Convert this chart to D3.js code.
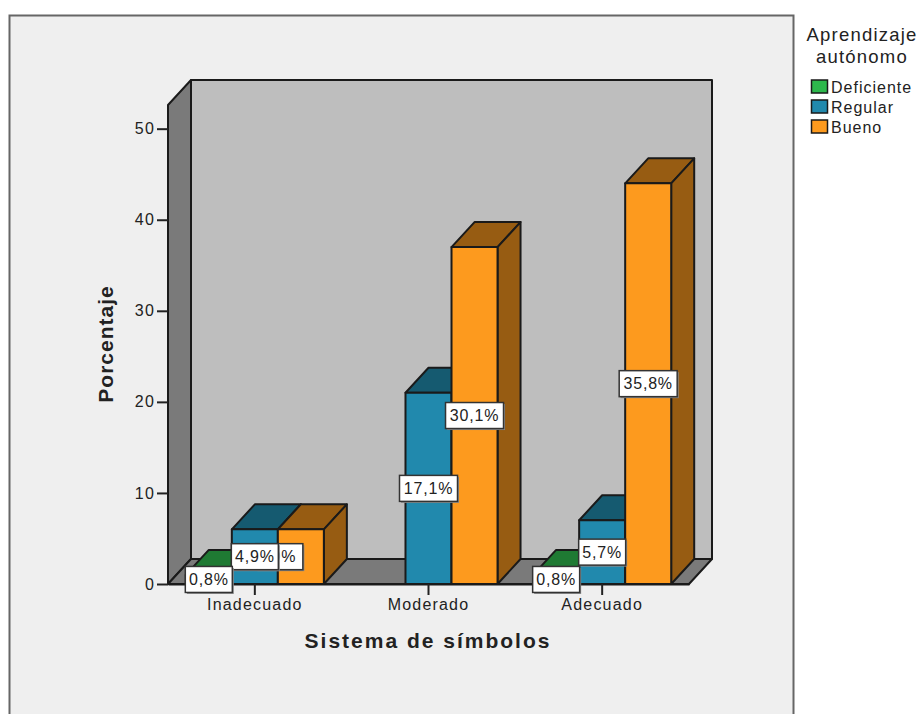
<!DOCTYPE html>
<html>
<head>
<meta charset="utf-8">
<script src="https://cdn.jsdelivr.net/npm/d3@7"></script>
<style>
  html, body { margin: 0; padding: 0; background: #fff; }
  svg { display: block; }
  text { font-family: "Liberation Sans", Arial, sans-serif; fill: #222; }
</style>
</head>
<body>
<div id="chart"></div>
<script>
"use strict";

const categories = ["Inadecuado", "Moderado", "Adecuado"];
const seriesNames = ["Deficiente", "Regular", "Bueno"];

// Cases per cell; the bar labels give each one as a share of all the cases.
const deficiente = [1, 0, 1];
const regular = [6, 21, 7];
const bueno = [6, 37, 44];
const seriesValues = [deficiente, regular, bueno];

const yTicks = [0, 10, 20, 30, 40, 50];
const total = d3.sum(seriesValues, s => d3.sum(s));

const frontColors = ["#2db84c", "#2189ad", "#fd9a1e"];
const topColors = ["#1f7a33", "#155a70", "#975c12"];

const width = 922, height = 714;
const depthX = 23, depthY = 25;   // offset of the back wall

const svg = d3.select("#chart").append("svg")
  .attr("width", width)
  .attr("height", height);

// chart frame, its bottom edge runs past the page
svg.append("rect")
  .attr("x", 9.5).attr("y", 15.5)
  .attr("width", 784).attr("height", 720)
  .attr("fill", "#efefef")
  .attr("stroke", "#666")
  .attr("stroke-width", 2);

const x = d3.scaleBand()
  .domain(categories)
  .range([168, 689])
  .paddingInner(0.205)
  .paddingOuter(0.1025);

const xSeries = d3.scaleBand()
  .domain(seriesNames)
  .range([0, x.bandwidth()]);

const y = d3.scaleLinear()
  .domain([0, 52.6])
  .range([584, 105]);

const line = d3.line();
const [xLeft, xRight] = x.range();
const [yBase, yTop] = y.range();

function poly(parent, pts, fill) {
  return parent.append("path")
    .attr("d", line(pts) + "Z")
    .attr("fill", fill)
    .attr("stroke", "#1a1a1a")
    .attr("stroke-width", 2)
    .attr("stroke-linejoin", "round");
}

// walls and floor
const walls = svg.append("g");
poly(walls, [[xLeft + depthX, yTop - depthY], [xRight + depthX, yTop - depthY],
             [xRight + depthX, yBase - depthY], [xLeft + depthX, yBase - depthY]], "#bebebe");
poly(walls, [[xLeft, yTop], [xLeft + depthX, yTop - depthY],
             [xLeft + depthX, yBase - depthY], [xLeft, yBase]], "#7a7a7a");
poly(walls, [[xLeft, yBase], [xLeft + depthX, yBase - depthY],
             [xRight + depthX, yBase - depthY], [xRight, yBase]], "#7a7a7a");

// bars, left to right so each one covers the side of the previous one
const bars = svg.append("g");
const labelData = [];
categories.forEach((cat, c) => {
  seriesNames.forEach((name, s) => {
    const v = seriesValues[s][c];
    if (!v) return;
    const x0 = x(cat) + xSeries(name);
    const x1 = x0 + xSeries.bandwidth();
    const y0 = y(v);
    poly(bars, [[x0, y0], [x0 + depthX, y0 - depthY], [x1 + depthX, y0 - depthY], [x1, y0]], topColors[s]);
    poly(bars, [[x1, y0], [x1 + depthX, y0 - depthY], [x1 + depthX, yBase - depthY], [x1, yBase]], topColors[s]);
    poly(bars, [[x0, y0], [x1, y0], [x1, yBase], [x0, yBase]], frontColors[s]);
    labelData.push({ c, s, v, cx: (x0 + x1) / 2, cy: (y0 + yBase) / 2 });
  });
});

// axes
const yAxis = svg.append("g")
  .attr("transform", `translate(${xLeft},0)`)
  .call(d3.axisLeft(y).tickValues(yTicks).tickSize(11).tickSizeOuter(0).tickPadding(2));
const xAxis = svg.append("g")
  .attr("transform", `translate(0,${yBase})`)
  .call(d3.axisBottom(x).tickSize(11).tickSizeOuter(0).tickPadding(4));
yAxis.select(".domain").remove();
xAxis.select(".domain").attr("stroke", "#1a1a1a").attr("stroke-width", 2);
[yAxis, xAxis].forEach(axis => {
  axis.selectAll(".tick line").attr("stroke", "#222").attr("stroke-width", 2);
  axis.selectAll("text")
    .style("font-family", '"Liberation Sans", Arial, sans-serif')
    .style("font-size", "16px")
    .style("letter-spacing", "1.2px")
    .attr("fill", "#222");
});

svg.append("text")
  .attr("x", 428).attr("y", 648)
  .attr("text-anchor", "middle")
  .style("font-size", "21px")
  .style("font-weight", "bold")
  .style("letter-spacing", "2px")
  .text("Sistema de símbolos");

svg.append("text")
  .attr("transform", "translate(113,344) rotate(-90)")
  .attr("text-anchor", "middle")
  .style("font-size", "21px")
  .style("font-weight", "bold")
  .style("letter-spacing", "1px")
  .text("Porcentaje");

// percentage labels, last series first so the earlier ones sit on top
const fmt = d3.formatLocale({ decimal: ",", thousands: ".", grouping: [3], currency: ["", ""] }).format(".1f");
const labels = svg.append("g");
labelData.sort((a, b) => a.c - b.c || b.s - a.s).forEach(d => {
  const txt = fmt(d.v / total * 100) + "%";
  // the Inadecuado/Bueno label is pushed left, under its neighbour
  const pushed = d.c === 0 && d.s === 2;
  const cx = pushed ? d.cx - 21.5 : d.cx;
  const w = txt.length > 4 ? 58 : 47;
  const h = 26;
  const g = labels.append("g").attr("transform", `translate(${cx},${d.cy})`);
  g.append("rect")
    .attr("x", -w / 2 + 1.5).attr("y", -h / 2 + 1.5)
    .attr("width", w).attr("height", h)
    .attr("fill", "#8a8a8a");
  g.append("rect")
    .attr("x", -w / 2).attr("y", -h / 2)
    .attr("width", w).attr("height", h)
    .attr("fill", "#fff")
    .attr("stroke", "#333")
    .attr("stroke-width", 1.5);
  g.append("text")
    .attr("x", pushed ? -3 : 0)
    .attr("y", 5.5)
    .attr("text-anchor", "middle")
    .style("font-size", "16px")
    .style("letter-spacing", "0.8px")
    .text(txt);
});

// legend
const legendTitle = svg.append("g")
  .attr("text-anchor", "middle")
  .style("font-size", "18.5px")
  .style("letter-spacing", "1.2px");
legendTitle.append("text").attr("x", 862).attr("y", 41).text("Aprendizaje");
legendTitle.append("text").attr("x", 862).attr("y", 63).text("autónomo");

const legend = svg.append("g")
  .attr("class", "legend")
  .style("font-size", "16px")
  .style("letter-spacing", "1px");

legend.selectAll("rect")
  .data(seriesNames)
  .enter()
  .append("rect")
  .attr("x", 811.5)
  .attr("y", (d, i) => 80 + i * 20)
  .attr("width", 16)
  .attr("height", 13)
  .attr("fill", (d, i) => frontColors[i])
  .attr("stroke", "#1a1a1a")
  .attr("stroke-width", 1.5);

legend.selectAll("text")
  .data(seriesNames)
  .enter()
  .append("text")
  .attr("x", 831)
  .attr("y", (d, i) => 93 + i * 20)
  .text(d => d);
</script>
</body>
</html>
